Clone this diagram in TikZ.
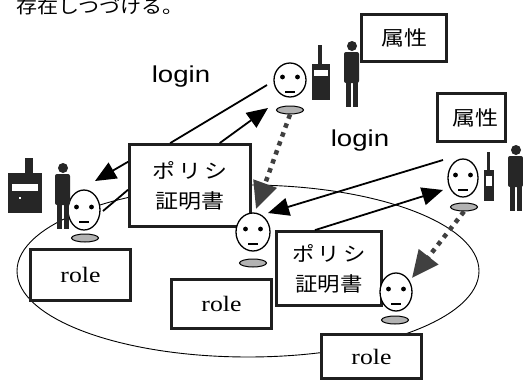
\documentclass[tikz,border=0pt]{standalone}
\usepackage{fontspec}
\setmainfont{Liberation Serif}
\newfontfamily\jpfont{Noto Sans CJK JP}
\newfontfamily\arialfont{Liberation Sans}
\usetikzlibrary{arrows.meta,shapes.geometric,calc}

% horizontally widened text
\newcommand\wide[2][1.17]{\scalebox{#1}[1]{#2}}

% a face: name, x, y, width, height
\newcommand\facefig[5]{%
  \node[face, minimum width=#4pt, minimum height=#5pt] (#1) at (#2,#3) {};
  \begin{scope}[shift={(#2,#3)}]
    \fill (-7.5,-3) circle (2.4pt);
    \fill (7.5,-3) circle (2.4pt);
    \draw[line width=1.1pt] (-5,12) -- (5,12);
  \end{scope}}

% a standing silhouette: head centre x, y
\newcommand\personfig[2]{%
  \begin{scope}[shift={(#1,#2)}]
    \fill[black!85] (0,0) circle (5pt);
    \fill[black!85, rounded corners=2pt] (-8,6) rectangle (7,37);
    \fill[black!85] (-6,34) rectangle (-1,61);
    \fill[black!85] (1,34) rectangle (6,61);
  \end{scope}}

\begin{document}
\begin{tikzpicture}[x=1pt, y=-1pt,
  box/.style={draw=black!88, line width=2.8pt, fill=white, inner sep=0pt},
  face/.style={ellipse, draw, line width=1.3pt, fill=white, inner sep=0pt},
  halo/.style={ellipse, draw, line width=1pt, fill=black!30, inner sep=0pt,
               minimum width=27pt, minimum height=8pt},
  conn/.style={line width=1.8pt, draw=black},
  arr/.style={conn, -{Triangle[length=21pt,width=18pt]}},
  dots/.style={line width=4.5pt, draw=black!75, dash pattern=on 4.5pt off 5pt,
               -{Triangle[length=27pt,width=24pt]}},
  jp/.style={font=\jpfont\fontsize{20}{30}\selectfont},
  rolebox/.style={box, minimum width=100pt, font=\fontsize{22}{22}\selectfont},
  loginlabel/.style={anchor=base, inner sep=0pt, font=\arialfont\fontsize{23}{23}\selectfont}
]
\useasboundingbox[fill=white] (0,0) rectangle (523,383);

% caption line running off the top edge
\node[anchor=base west, inner sep=0pt, font=\jpfont\fontsize{18}{18}\selectfont]
  (note) at (16,13.5) {\wide{存在しつづける。}};

% the domain ellipse
\draw[line width=0.9pt] (248,271) ellipse [x radius=231, y radius=86];

% attribute boxes
\node[box, jp, minimum width=85pt, minimum height=47pt] (attr1) at (404,38) {\wide[1.15]{属性}};
\node[box, jp, minimum width=68pt, minimum height=48pt] (attr2) at (471.5,117.5) {\hspace*{7pt}\wide[1.15]{属性}};

% policy certificate boxes
\node[box, jp, align=center, minimum width=121pt, minimum height=82pt] (pc1) at (190,185.5)
  {\wide[1.15]{ポ\hspace{3pt}リ\hspace{3pt}シ}\\\wide[1.15]{証明書}};
\node[box, jp, align=center, minimum width=105pt, minimum height=74pt] (pc2) at (329,268.5)
  {\wide[1.12]{ポ\hspace{3pt}リ\hspace{3pt}シ}\\\wide[1.12]{証明書}};

% role boxes
\node[rolebox, minimum height=51pt] (role1) at (80.5,275) {\wide{role}};
\node[rolebox, minimum height=49pt] (role2) at (221.5,304) {\wide{role}};
\node[rolebox, minimum height=44pt] (role3) at (371.5,356.5) {\wide{role}};

% users: faces and name plates
\facefig{h1}{290}{80}{32}{34}
\node[halo] (h1s) at (290,110) {};
\facefig{h2}{463}{178}{30}{38}
\node[halo] (h2s) at (464,207) {};
\facefig{h3}{84}{210}{32}{40}
\node[halo] (h3s) at (85,238) {};
\facefig{h4}{253}{232}{34}{38}
\node[halo] (h4s) at (253,263) {};
\facefig{h5}{396}{292}{32}{38}
\node[halo] (h5s) at (395,320) {};

% silhouettes
\personfig{352}{46}
\personfig{516}{150}
\personfig{63}{168}

% phones and terminal
\fill[black!85] (318,45) rectangle (322,65);
\fill[black!85] (312,64) rectangle (330,100);
\fill[white] (314,70) rectangle (328,76);
\fill[black!85] (487,152) rectangle (490,171);
\fill[black!85] (484,170) rectangle (494,201);
\fill[white] (486,176) rectangle (492,186);
\fill[black!85] (25,158) rectangle (33,174);
\fill[black!85] (8,173) rectangle (42,213);
\fill[white] (12,184) rectangle (38,191);
\fill[white] (19,197) rectangle (21,199);

% login labels
\node[loginlabel] (login1) at (181,82) {\wide[1.2]{login}};
\node[loginlabel] (login2) at (360,146) {\wide[1.2]{login}};

% connector end points next to the users
\coordinate (c1) at (267,85);
\coordinate (t1) at (268,108);
\coordinate (t3) at (95,181);
\coordinate (c3) at (103,211);
\coordinate (t4) at (256,209);
\coordinate (c2) at (443,160);
\coordinate (t6) at (268,213);
\coordinate (t2) at (443,190);
\coordinate (t5) at (412,278);

% login requests and issued certificates
\draw[conn] (c1) -- ($(pc1.north west)!0.34!(pc1.north east)$);
\draw[arr] ($(pc1.north west)!0.74!(pc1.north east)$) -- (t1);
\draw[arr] ($(pc1.north west)!0.22!(pc1.south west)$) -- (t3);
\draw[conn] (c3) -- ($(pc1.north west)!0.55!(pc1.south west)$);
\draw[arr] (c2) -- (t6);
\draw[arr] ($(pc2.north west)!0.37!(pc2.north east)$) -- (t2);

% certificate handover between users
\draw[dots] (h1s.south) -- (t4);
\draw[dots] (h2s.south) -- (t5);
\end{tikzpicture}
\end{document}
